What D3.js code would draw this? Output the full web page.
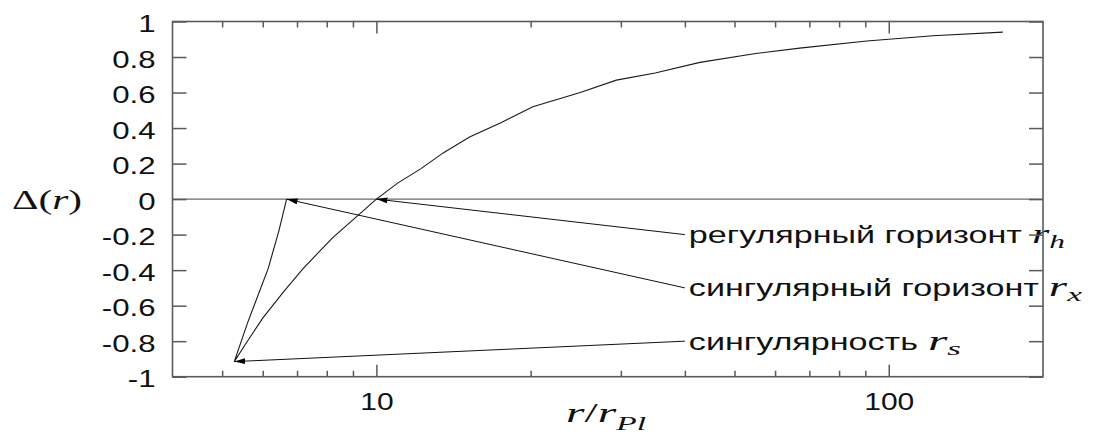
<!DOCTYPE html>
<html>
<head>
<meta charset="utf-8">
<script src="https://cdn.jsdelivr.net/npm/d3@7"></script>
<style>
  body { margin: 0; background: #fff; }
  svg { display: block; }
  .tick text { font-family: 'Liberation Sans', Arial, sans-serif; font-size: 24px; fill: #111; }
  .tick line { stroke: #5a5a5a; stroke-width: 1.5; }
  .domain { display: none; }
</style>
</head>
<body>
<svg width="1093" height="447"></svg>
<script>
// Values (r / r_Pl on a log axis, Delta(r) linear)
// the curve starts at r_x, dips to r_s and then climbs through r_h
const curveR = [6.68, 6.45, 6.15, 5.6, 5.28, 5.6, 6.0, 6.6, 7.2, 8.2, 9.3, 10, 11, 12.2, 13.5, 15.2, 17.5, 20.2, 25, 29.4, 35, 42.8, 55, 67, 90.6, 122, 167]
const curveDelta = [0, -0.18, -0.39, -0.70, -0.915, -0.80, -0.67, -0.52, -0.39, -0.22, -0.08, 0, 0.09, 0.17, 0.26, 0.35, 0.43, 0.52, 0.60, 0.67, 0.71, 0.77, 0.82, 0.85, 0.89, 0.92, 0.94]

// tick values and labels
const yTicks = [-1, -0.8, -0.6, -0.4, -0.2, 0, 0.2, 0.4, 0.6, 0.8, 1]
const yTickLabels = ['-1', '-0.8', '-0.6', '-0.4', '-0.2', '0', '0.2', '0.4', '0.6', '0.8', '1']
const xMajorTicks = [10, 100]
const xMajorLabels = ['10', '100']
const xMinorTicks = [5, 6, 7, 8, 9, 20, 30, 40, 50, 60, 70, 80, 90]

// the three marked points and the labels pointing at them
const pointR = [10, 6.68, 5.28]
const pointDelta = [0, 0, -0.915]
const labelText = ['регулярный горизонт', 'сингулярный горизонт', 'сингулярность']
const labelSub = ['h', 'x', 's']
const labelAtR = [40, 40, 40]
const labelAtDelta = [-0.2, -0.5, -0.8]

//Global constants
const svg = d3.select('svg')
const plotLeft = 172.5, plotRight = 1043, plotTop = 21.5, plotBottom = 376.7
const STRETCH = 1.42   // the picture is widened, so text is too

const x = d3.scaleLog().domain([4, 200]).range([plotLeft, plotRight])
const y = d3.scaleLinear().domain([-1, 1]).range([plotBottom, plotTop])

// widen a plain text by a factor
function stretch(sel, k) {
  sel.each(function() {
    const len = this.getComputedTextLength()
    d3.select(this).attr('textLength', len * k).attr('lengthAdjust', 'spacingAndGlyphs')
  })
}

// tick labels: move the x offset into a transform and widen from there
function widenTicks(sel, k) {
  sel.each(function() {
    const t = d3.select(this)
    const tx = +t.attr('x') || 0
    t.attr('x', 0).attr('transform', `translate(${tx},0) scale(${k},1)`)
  })
}

// squeeze/widen a group with mixed tspans to a given width
function fitTo(g, textSel, x0, baseY, w) {
  const len = textSel.node().getComputedTextLength()
  g.attr('transform', `translate(${x0},${baseY}) scale(${w / len},1)`)
}

// arrow head
svg.append('defs').append('marker')
    .attr('id', 'head')
    .attr('viewBox', '0 0 11 6')
    .attr('refX', 11).attr('refY', 3)
    .attr('markerWidth', 11).attr('markerHeight', 6)
    .attr('markerUnits', 'userSpaceOnUse')
    .attr('orient', 'auto')
  .append('path')
    .attr('d', 'M0,0 L11,3 L0,6 Z')
    .attr('fill', '#000')

// zero line
svg.append('line')
    .attr('x1', plotLeft).attr('x2', plotRight)
    .attr('y1', y(0)).attr('y2', y(0))
    .attr('stroke', '#6a6a6a')
    .attr('stroke-width', 1.3)

// the curve
const line = d3.line()
    .x(i => x(curveR[i]))
    .y(i => y(curveDelta[i]))

svg.append('path')
    .datum(d3.range(curveR.length))
    .attr('d', line)
    .attr('fill', 'none')
    .attr('stroke', '#1a1a1a')
    .attr('stroke-width', 1.1)

// arrows from the labels to the points
svg.selectAll('.arrow')
    .data(d3.range(pointR.length))
    .enter().append('line')
    .attr('class', 'arrow')
    .attr('x1', i => x(labelAtR[i]))
    .attr('y1', i => y(labelAtDelta[i]))
    .attr('x2', i => x(pointR[i]))
    .attr('y2', i => y(pointDelta[i]))
    .attr('stroke', '#111')
    .attr('stroke-width', 1)
    .attr('marker-end', 'url(#head)')

// labels: russian part then the italic r with its subscript
labelText.forEach((t, i) => {
  const lx = x(labelAtR[i]) + 4
  const ly = y(labelAtDelta[i]) + 8.5
  const txt = svg.append('text')
      .attr('x', lx).attr('y', ly)
      .attr('font-family', "'Liberation Sans', Arial, sans-serif")
      .attr('font-size', 24)
      .attr('fill', '#111')
      .text(t)
  const plain = txt.node().getComputedTextLength()
  stretch(txt, STRETCH)
  const end = lx + plain * STRETCH

  const g = svg.append('g')
  const m = g.append('text')
      .attr('font-family', "'Liberation Serif', 'Times New Roman', serif")
      .attr('font-size', 27)
      .attr('fill', '#111')
  m.append('tspan').attr('font-style', 'italic').text('r')
  m.append('tspan').attr('font-style', 'italic').attr('font-size', 19).attr('dy', 5).text(labelSub[i])
  fitTo(g, m, end + 10, ly, 33)
})

// y axis, ticks inward on both sides
svg.append('g')
    .attr('transform', `translate(${plotLeft},0)`)
    .call(d3.axisLeft(y).tickValues(yTicks)
      .tickFormat((d, i) => yTickLabels[i])
      .tickSizeInner(-14).tickSizeOuter(0).tickPadding(17))
    .call(g => g.selectAll('text').attr('dy', '0.42em'))
    .call(g => widenTicks(g.selectAll('text'), 1.3))

svg.append('g')
    .attr('transform', `translate(${plotRight},0)`)
    .call(d3.axisRight(y).tickValues(yTicks).tickFormat('')
      .tickSizeInner(-14).tickSizeOuter(0))

// x axis, major and minor ticks, bottom and top
svg.append('g')
    .attr('transform', `translate(0,${plotBottom})`)
    .call(d3.axisBottom(x).tickValues(xMajorTicks)
      .tickFormat((d, i) => xMajorLabels[i])
      .tickSizeInner(-12).tickSizeOuter(0).tickPadding(16))
    .call(g => widenTicks(g.selectAll('text'), 1.25))

svg.append('g')
    .attr('transform', `translate(0,${plotBottom})`)
    .call(d3.axisBottom(x).tickValues(xMinorTicks).tickFormat('')
      .tickSizeInner(-6).tickSizeOuter(0))

svg.append('g')
    .attr('transform', `translate(0,${plotTop})`)
    .call(d3.axisTop(x).tickValues(xMajorTicks).tickFormat('')
      .tickSizeInner(-12).tickSizeOuter(0))

svg.append('g')
    .attr('transform', `translate(0,${plotTop})`)
    .call(d3.axisTop(x).tickValues(xMinorTicks).tickFormat('')
      .tickSizeInner(-6).tickSizeOuter(0))

// frame
svg.append('rect')
    .attr('x', plotLeft).attr('y', plotTop)
    .attr('width', plotRight - plotLeft).attr('height', plotBottom - plotTop)
    .attr('fill', 'none')
    .attr('stroke', '#5a5a5a')
    .attr('stroke-width', 1.6)

// axis titles, latex style
const yTitle = svg.append('g')
const yt = yTitle.append('text')
    .attr('font-family', "'Liberation Serif', 'Times New Roman', serif")
    .attr('font-size', 28)
    .attr('fill', '#111')
yt.append('tspan').text('Δ(')
yt.append('tspan').attr('font-style', 'italic').text('r')
yt.append('tspan').text(')')
fitTo(yTitle, yt, 12, 209, 70)

const xTitle = svg.append('g')
const xt = xTitle.append('text')
    .attr('font-family', "'Liberation Serif', 'Times New Roman', serif")
    .attr('font-size', 27)
    .attr('fill', '#111')
xt.append('tspan').attr('font-style', 'italic').text('r')
xt.append('tspan').text('/')
xt.append('tspan').attr('font-style', 'italic').text('r')
xt.append('tspan').attr('font-style', 'italic').attr('font-size', 19).attr('dy', 8).text('Pl')
fitTo(xTitle, xt, 566, 422, 80)
</script>
</body>
</html>
